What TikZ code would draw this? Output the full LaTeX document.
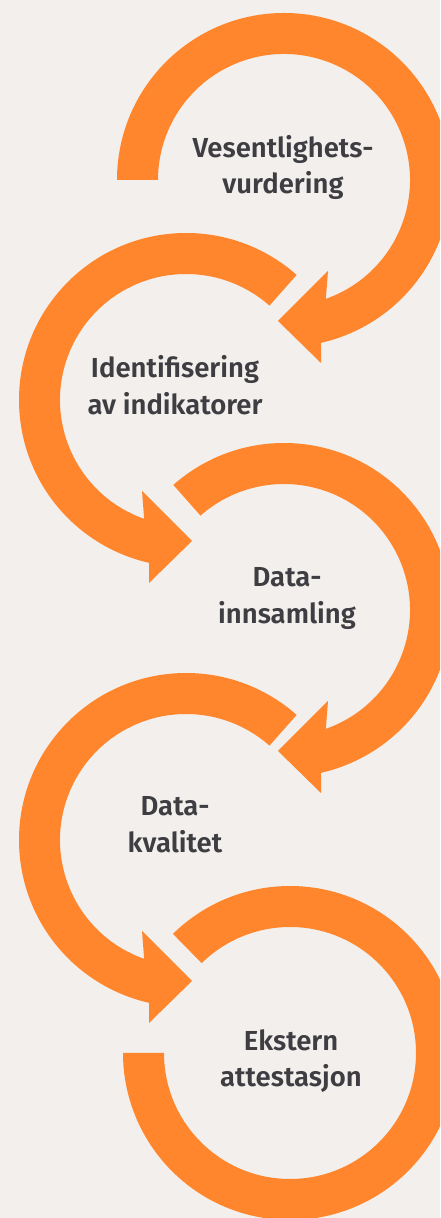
\documentclass[tikz,border=0pt]{standalone}
\usepackage{fontspec}
\setmainfont{Fira Sans SemiBold}
\definecolor{bg}{HTML}{F2EFEC}
\definecolor{ring}{HTML}{FF862C}
\definecolor{txt}{HTML}{3E3E42}
\tikzset{
  ringfill/.style={fill=ring},
  label/.style={align=center, text=txt, font=\fontsize{27.5}{36.7}\selectfont, inner sep=0pt, anchor=center}
}
\begin{document}
\begin{tikzpicture}[x=1pt,y=1pt]
\useasboundingbox (0,0) rectangle (440,1218);
\fill[bg] (0,0) rectangle (440,1218);
\clip (0,0) rectangle (440,1218);
% circle 1 (clockwise, arrow at bottom)
\begin{scope}[shift={(284,1038)}]
\fill[ringfill] (180:167) arc[start angle=180, end angle=-77.2, radius=167pt]
  -- (37,-183) -- (-6,-141) -- (44,-91) -- (-70.6:126)
  arc[start angle=-70.6, end angle=180, radius=126pt] -- cycle;
\end{scope}
% circle 2 (counter-clockwise)
\begin{scope}[shift={(186,818)}]
\fill[ringfill] (48.5:167) arc[start angle=48.5, end angle=257.2, radius=167pt]
  -- (-37,-183) -- (6,-141) -- (-44,-91) -- (250.6:126)
  arc[start angle=250.6, end angle=48.5, radius=126pt] -- cycle;
\end{scope}
% circle 3
\begin{scope}[shift={(284,608)}]
\fill[ringfill] (131.5:167) arc[start angle=131.5, end angle=-77.2, radius=167pt]
  -- (37,-183) -- (-6,-141) -- (44,-91) -- (-70.6:126)
  arc[start angle=-70.6, end angle=131.5, radius=126pt] -- cycle;
\end{scope}
% circle 4
\begin{scope}[shift={(186,378)}]
\fill[ringfill] (48.5:167) arc[start angle=48.5, end angle=257.2, radius=167pt]
  -- (-37,-183) -- (6,-141) -- (-44,-91) -- (250.6:126)
  arc[start angle=250.6, end angle=48.5, radius=126pt] -- cycle;
\end{scope}
% circle 5 (no arrow)
\begin{scope}[shift={(290,165)}]
\fill[ringfill] (134.5:167) arc[start angle=134.5, end angle=-180, radius=167pt]
  -- (-180:126) arc[start angle=-180, end angle=134.5, radius=126pt] -- cycle;
\end{scope}
\node[label] (t1) at (283,1050.5) {Vesentlighets-\\vurdering};
\node[label] (t2) at (175,833) {Identifisering\\av indikatorer};
\node[label] (t3) at (287,619.5) {Data-\\innsamling};
\node[label] (t4) at (175,393.5) {Data-\\kvalitet};
\node[label] (t5) at (291,157) {Ekstern\\attestasjon};
\end{tikzpicture}
\end{document}
